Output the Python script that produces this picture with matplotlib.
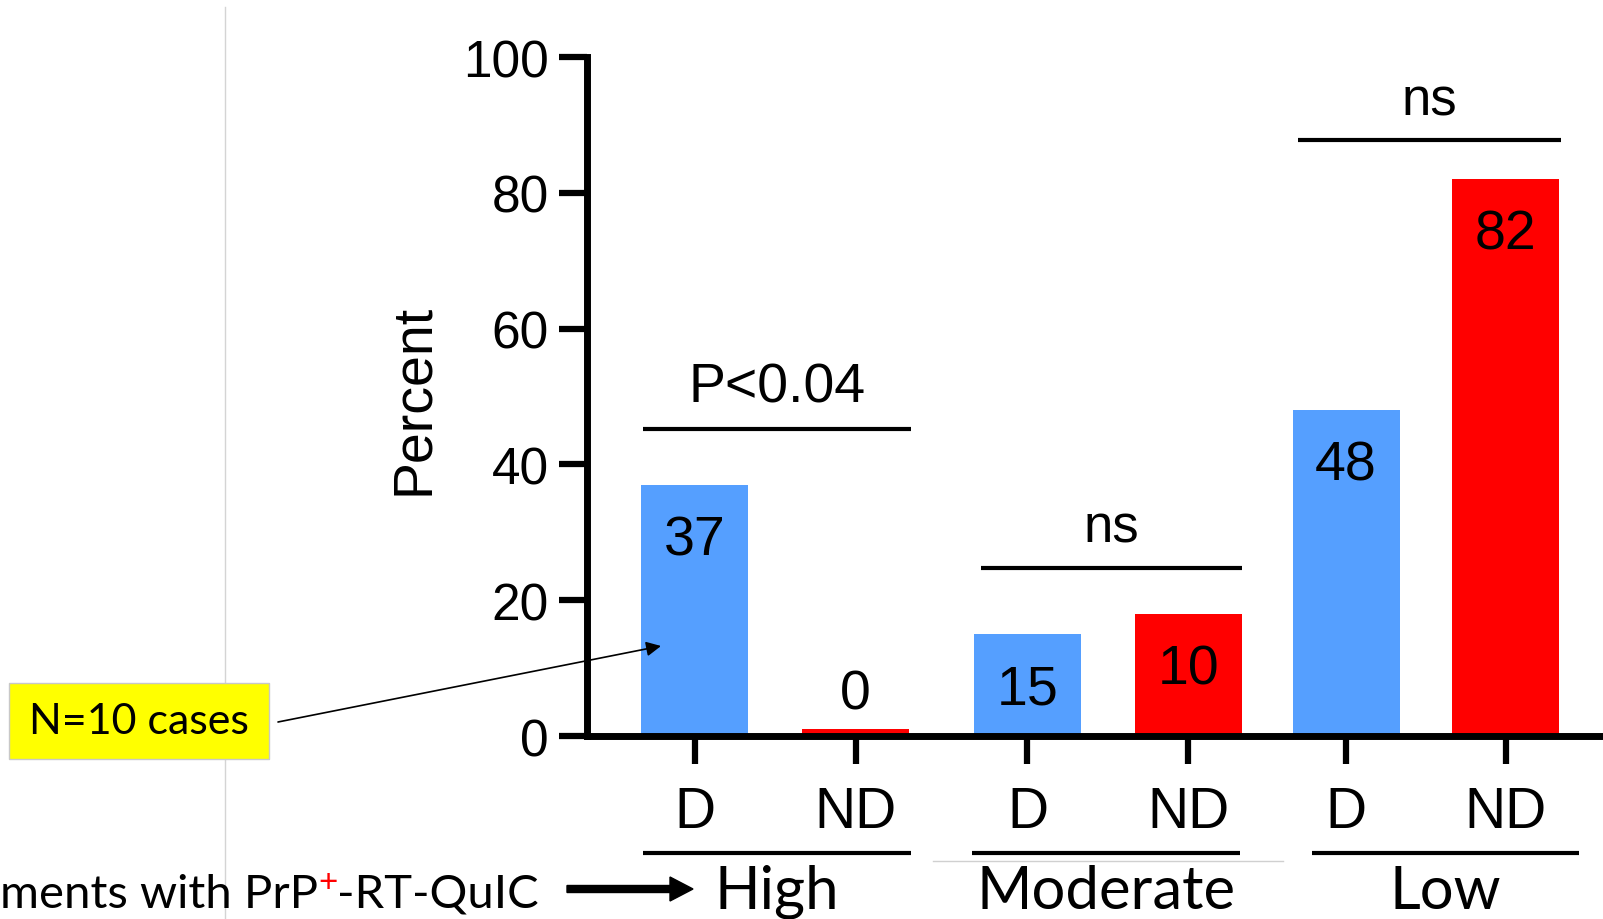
import matplotlib
matplotlib.use('Agg')
import matplotlib.pyplot as plt
import matplotlib.patches as mpatches
from matplotlib.transforms import IdentityTransform

# data
groups = ['High', 'Moderate', 'Low']
subgroups = ['D', 'ND', 'D', 'ND', 'D', 'ND']
heights = [37, 1, 15, 18, 48, 82]
bar_labels = ['37', '0', '15', '10', '48', '82']
stats = ['P<0.04', 'ns', 'ns']

# layout
xpos = [0, 1.0, 2.068, 3.068, 4.047, 5.04]
bar_colors = ['#559FFF', '#FF0000'] * 3
arial = 'Liberation Sans'
calibri = 'Lato'

fig = plt.figure(figsize=(16.03, 9.2), dpi=100)
ax = fig.add_axes([0.3659, 0.1989, 0.6341, 0.738])

ax.bar(xpos, heights, width=0.665, color=bar_colors, zorder=1)
ax.set_xlim(-0.671, 5.643)
ax.set_ylim(0, 100)
ax.set_yticks([0, 20, 40, 60, 80, 100])
ax.set_xticks(xpos)
ax.set_xticklabels(subgroups)

for s in ['top', 'right']:
    ax.spines[s].set_visible(False)
for s in ['left', 'bottom']:
    ax.spines[s].set_linewidth(5)

ax.tick_params(axis='y', length=20, width=4.5, pad=7, labelsize=37)
ax.tick_params(axis='x', length=20, width=4.5, pad=15, labelsize=41)
for lab in ax.get_xticklabels() + ax.get_yticklabels():
    lab.set_fontfamily(arial)

ax.text(-0.17, 0.498, 'Percent', transform=ax.transAxes, rotation=90,
        ha='center', va='center', fontsize=40, family=arial)

# numbers inside the bars
for x, h, lab in zip(xpos, heights, bar_labels):
    y = h - 10.2 if h > 5 else h + 3
    ax.text(x, y, lab, ha='center', va='baseline', fontsize=40, family=arial)

# significance brackets
br_x = [(-0.320, 1.345), (1.780, 3.401), (3.749, 5.382)]
br_y = [45.2, 24.7, 87.8]
txt_x = [0.512, 2.587, 4.562]
txt_y = [49.2, 28.7, 91.6]
txt_size = [40, 38, 38]
for (x0, x1), yb, tx, ty, s, fs in zip(br_x, br_y, txt_x, txt_y, stats, txt_size):
    ax.plot([x0, x1], [yb, yb], color='k', lw=3, solid_capstyle='butt')
    ax.text(tx, ty, s, ha='center', va='baseline', fontsize=fs, family=arial)

# group lines and labels under the axis
grp_x = [(-0.320, 1.345), (1.724, 3.388), (3.835, 5.494)]
for (x0, x1), g in zip(grp_x, groups):
    ax.plot([x0, x1], [-17.2, -17.2], color='k', lw=3, clip_on=False,
            solid_capstyle='butt')
    ax.text((x0 + x1) / 2, -25.3, g, ha='center', va='baseline',
            fontsize=43, family=calibri, clip_on=False)

# faint edge lines from the pasted picture (vertical one hidden by the box)
for y0, y1 in [(236, 912), (0, 160)]:
    fig.add_artist(plt.Line2D([225, 225], [y0, y1], color='#d4d4d4', lw=1,
                              transform=IdentityTransform(), zorder=1))
fig.add_artist(plt.Line2D([933, 1283], [58, 58], color='#d0d0d0', lw=1,
                          transform=IdentityTransform(), zorder=1))

# yellow note box with thin arrow
fig.add_artist(mpatches.Rectangle((9, 160), 260, 76, facecolor='#FFFF00',
                                  edgecolor='#c8c8c8', lw=1, zorder=3,
                                  transform=IdentityTransform()))
fig.text(139 / 1603, 1 - 722 / 920, 'N=10 cases', ha='center', va='center',
         fontsize=31, family=calibri, zorder=4)
ax.annotate('', xy=(661, 920 - 647), xycoords='figure pixels',
            xytext=(278, 920 - 723), textcoords='figure pixels',
            arrowprops=dict(arrowstyle='-|>', color='k', lw=1.2,
                            mutation_scale=22, shrinkA=0, shrinkB=0))

# bottom-left caption with red superscript
t1 = fig.text(0.0, 1 - 908 / 920, 'ments with PrP', ha='left',
              va='baseline', fontsize=34, family=calibri)
t2 = ax.annotate('+', xy=(1, 0), xycoords=t1, xytext=(0, 13),
                 textcoords='offset points', ha='left', va='bottom',
                 fontsize=24, color='red', family=calibri,
                 annotation_clip=False)
t3 = ax.annotate('-RT-QuIC', xy=(1, 0), xycoords=(t2, t1), ha='left',
                 va='bottom', fontsize=34, family=calibri,
                 annotation_clip=False)

fig.add_artist(mpatches.FancyArrow(567, 30, 126, 0, width=7, head_width=24,
                                   head_length=23, length_includes_head=True,
                                   color='k', transform=IdentityTransform()))

fig.savefig('out.png', dpi=100)
